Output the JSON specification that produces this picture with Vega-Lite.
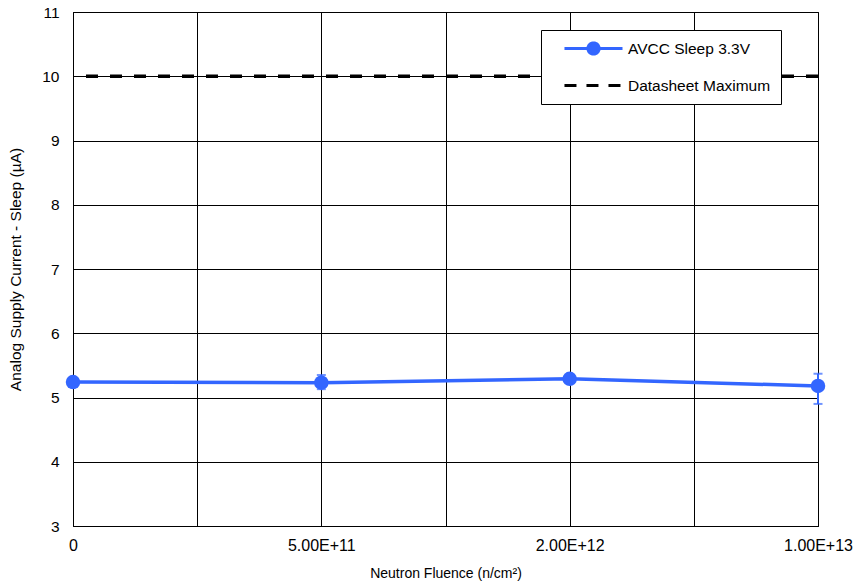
{
  "$schema": "https://vega.github.io/schema/vega-lite/v6.json",
  "width": 745,
  "height": 514,
  "padding": {"left": 8, "top": 5, "right": 37, "bottom": 5},
  "background": "white",
  "config": {
    "font": "Liberation Sans",
    "view": {"stroke": "black", "strokeWidth": 1},
    "axis": {
      "gridColor": "black", "gridOpacity": 1, "gridWidth": 1,
      "domainColor": "black", "ticks": false,
      "labelFont": "Liberation Sans", "labelColor": "black", "labelFontSize": 15.5,
      "titleFont": "Liberation Sans", "titleColor": "black", "titleFontSize": 14, "titleFontWeight": "normal"
    }
  },
  "data": {
    "values": [
      {"idx": 0, "fluence": "0", "current": 5.24, "lo": null, "hi": null},
      {"idx": 1, "fluence": "5.00E+11", "current": 5.23, "lo": 5.13, "hi": 5.35},
      {"idx": 2, "fluence": "2.00E+12", "current": 5.29, "lo": null, "hi": null},
      {"idx": 3, "fluence": "1.00E+13", "current": 5.18, "lo": 4.9, "hi": 5.37}
    ]
  },
  "encoding": {
    "x": {
      "field": "idx", "type": "quantitative",
      "scale": {"domain": [0, 3], "nice": false, "zero": false},
      "axis": {
        "title": "Neutron Fluence (n/cm²)",
        "values": [0, 0.5, 1, 1.5, 2, 2.5, 3],
        "labelExpr": "datum.value == 0 ? '0' : datum.value == 1 ? '5.00E+11' : datum.value == 2 ? '2.00E+12' : datum.value == 3 ? '1.00E+13' : ''",
        "labelFontSize": 16,
        "labelPadding": 11, "titlePadding": 13, "labelFlush": false, "labelOverlap": false
      }
    }
  },
  "layer": [
    {
      "data": {"values": [{"limit": 10, "series": "Datasheet Maximum"}]},
      "mark": {"type": "rule", "strokeWidth": 3.5, "strokeDash": [12, 12], "color": "black"},
      "encoding": {
        "x": null,
        "y": {"field": "limit", "type": "quantitative"}
      }
    },
    {
      "transform": [{"filter": "datum.lo != null"}],
      "mark": {"type": "rule", "color": "#3366ff", "strokeWidth": 2},
      "encoding": {
        "y": {"field": "lo", "type": "quantitative"},
        "y2": {"field": "hi"}
      }
    },
    {
      "transform": [{"filter": "datum.lo != null"}],
      "mark": {"type": "tick", "color": "#3366ff", "thickness": 2, "size": 9, "orient": "horizontal"},
      "encoding": {"y": {"field": "lo", "type": "quantitative"}}
    },
    {
      "transform": [{"filter": "datum.lo != null"}],
      "mark": {"type": "tick", "color": "#3366ff", "thickness": 2, "size": 9, "orient": "horizontal"},
      "encoding": {"y": {"field": "hi", "type": "quantitative"}}
    },
    {
      "mark": {"type": "line", "strokeWidth": 3.5, "point": {"filled": true, "size": 210, "color": "#3366ff"}},
      "encoding": {
        "y": {
          "field": "current", "type": "quantitative",
          "scale": {"domain": [3, 11], "nice": false, "zero": false},
          "axis": {"title": "Analog Supply Current - Sleep (µA)", "titleFontSize": 15.5, "format": "d", "values": [3, 4, 5, 6, 7, 8, 9, 10, 11], "labelPadding": 14, "titlePadding": 18}
        },
        "color": {
          "datum": "AVCC Sleep 3.3V",
          "scale": {"domain": ["AVCC Sleep 3.3V", "Datasheet Maximum"], "range": ["#3366ff", "black"]},
          "legend": {
            "orient": "none", "legendX": 468, "legendY": 18,
            "title": null,
            "symbolType": "stroke",
            "symbolSize": 196,
            "symbolStrokeWidth": 3,
            "labelFont": "Liberation Sans", "labelFontSize": 15.5, "labelColor": "black",
            "labelOffset": 60,
            "rowPadding": 16, "padding": 10,
            "strokeColor": "black", "fillColor": "white",
            "encode": {
              "symbols": {
                "update": {
                  "shape": {"signal": "datum.value === 'AVCC Sleep 3.3V' ? 'M0.71,0H9M4.06,0A0.8,0.8 0 1,0 5.66,0A0.8,0.8 0 1,0 4.06,0' : 'M0.71,0H9'"},
                  "fill": {"signal": "datum.value === 'AVCC Sleep 3.3V' ? '#3366ff' : 'transparent'"},
                  "strokeDash": {"signal": "datum.value === 'AVCC Sleep 3.3V' ? [1, 0] : [12, 10]"}
                }
              }
            }
          }
        }
      }
    }
  ]
}
